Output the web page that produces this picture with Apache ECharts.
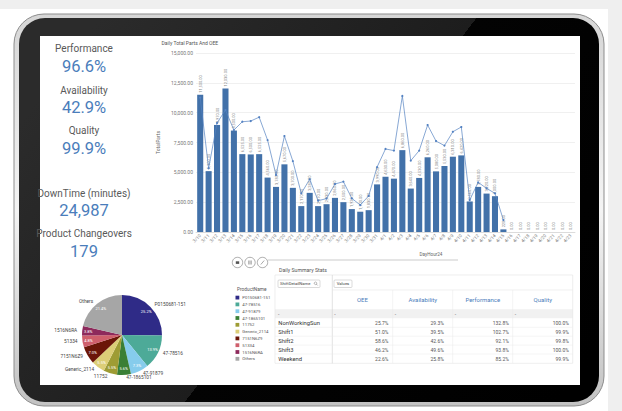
<!DOCTYPE html>
<html><head><meta charset="utf-8">
<script src="https://cdn.jsdelivr.net/npm/echarts@6/dist/echarts.min.js"></script>
<style>html,body{margin:0;padding:0;background:#fff}#c{width:622px;height:411px}</style>
</head><body><div id="c"></div>
<script>
// ---------- data ----------
const dates = ['3/10','3/11','3/12','3/13','3/14','3/15','3/16','3/17','3/18','3/19','3/20','3/21','3/22','3/23','3/24','3/25','3/26','3/27','3/28','3/29','3/30','3/31',
  '4/1','4/2','4/3','4/4','4/5','4/6','4/7','4/8','4/9','4/10','4/11','4/12','4/13','4/14','4/15','4/16','4/17','4/18','4/19','4/20','4/21','4/22','4/23'];
const totalParts = [11500,5100,8970,12030,8500,6525,6500,6525,4560,3780,5670,3700,2170,3280,2170,2330,2860,2500,1920,1700,1830,3990,
  4630,4470,6860,3640,4530,6260,5080,5530,6310,6420,2560,3780,3220,3000,220,0,0,0,0,0,0,0,0];
const oeePct = [56.3,26.7,45.7,51.1,42.7,46.2,46.5,48.1,38.5,23.9,40.2,29.7,16.2,22.1,13.1,14.0,20.1,21.1,14.1,11.3,15.1,27.2,
  34.8,34.1,57.0,29.9,34.1,44.8,38.1,36.2,42.0,44.0,13.4,20.8,18.3,16.2,5.0,null,null,null,null,null,null,null,null];
const yTicks = [0,2500,5000,7500,10000,12500,15000];

const kpiLabels = ['Performance','Availability','Quality','DownTime (minutes)','Product Changeovers'];
const kpiValues = ['96.6%','42.9%','99.9%','24,987','179'];

const productNames = ['P0150681-151','47-78516','47-91879','47-1865101','11752','Generic_2114','7151N6Z9','51334','1516N6RA','Others'];
const productShares = [25.2,13.9,7.3,5.6,5.5,5.5,7.0,4.8,3.8,21.4];
const productColors = ['#2f2b87','#4daa98','#86ccec','#3a7f35','#9e9c34','#dcce77','#6b1608','#cf5f6c','#8e2a5c','#a6a6a6'];

const tableHeaders = ['OEE','Availability','Performance','Quality'];
const shifts = ['NonWorkingSun','Shift1','Shift2','Shift3','Weekend'];
const shiftOEE = ['25.7%','51.0%','58.6%','46.2%','22.6%'];
const shiftAvailability = ['29.3%','39.5%','42.6%','49.6%','25.8%'];
const shiftPerformance = ['132.8%','102.7%','92.1%','93.8%','85.2%'];
const shiftQuality = ['100.0%','99.9%','99.8%','100.0%','99.9%'];

// ---------- drawing ----------
const FONT = 'Roboto, "Open Sans", sans-serif';
const BLUE = '#4a7dbb';
const g = [];
function txt(x, y, text, size, fill, align, extra) {
  g.push(Object.assign({type:'text', x:x, y:y, z:50,
    style:{text:text, fontSize:size, fontFamily:FONT, fill:fill, align:align||'center', verticalAlign:'middle'}}, extra||{}));
}
// page background & tablet
g.push({type:'rect', z:-20, shape:{x:0,y:0,width:622,height:9}, style:{fill:'#efefef'}});
g.push({type:'rect', z:-20, shape:{x:608,y:0,width:14,height:411}, style:{fill:'#efefef'}});
g.push({type:'rect', z:-19, shape:{x:14,y:14,width:590,height:392,r:30},
  style:{fill:new echarts.graphic.LinearGradient(0,0,0,1,[{offset:0,color:'#d6d6d6'},{offset:0.5,color:'#f4f4f4'},{offset:1,color:'#c2c2c2'}]), stroke:'#8d8d8d', lineWidth:1}});
g.push({type:'rect', z:-18, shape:{x:19,y:18,width:580,height:384,r:26},
  style:{fill:{type:'linear', x:92, y:28, x2:570, y2:391, global:true,
    colorStops:[{offset:0,color:'#2b2b2b'},{offset:0.5,color:'#1d1d1d'},{offset:0.5,color:'#030303'},{offset:1,color:'#000'}]}}});
g.push({type:'rect', z:-17, shape:{x:40,y:36,width:540,height:349}, style:{fill:'#ffffff'}});

// KPI panel
const kpiY = [[48.7,66.7],[90,107.7],[130.7,148.3],[193.3,210.5],[233.3,251]];
kpiLabels.forEach((l,i)=>{ txt(84, kpiY[i][0], l, 10, '#595959'); txt(84, kpiY[i][1], kpiValues[i], 16.5, BLUE); });

// bar chart titles
txt(161.5, 42.5, 'Daily Total Parts And OEE', 5, '#555', 'left');
txt(431, 254.5, 'DayHour24', 4.6, '#666');
// scroll bar + buttons
g.push({type:'rect', z:10, shape:{x:268,y:259.2,width:190,height:1.6}, style:{fill:'#dcdcdc'}});
[237.5,250,262.5].forEach(cx=>g.push({type:'circle', z:10, shape:{cx:cx,cy:262.5,r:5.2}, style:{fill:'#fff',stroke:'#8a8a8a',lineWidth:0.7}}));
g.push({type:'rect', z:11, shape:{x:235.8,y:261.3,width:3.4,height:2.6}, style:{fill:'#555'}});
[248.7,250,251.3].forEach(x=>g.push({type:'line', z:11, shape:{x1:x,y1:260.5,x2:x,y2:264.5}, style:{stroke:'#555',lineWidth:0.5}}));
g.push({type:'line', z:11, shape:{x1:260.8,y1:264.5,x2:264.2,y2:260.5}, style:{stroke:'#555',lineWidth:0.5}});

// pie legend title
txt(237, 289.5, 'ProductName', 4.8, '#555', 'left');

// table
txt(279, 269.5, 'Daily Summary Stats', 5.2, '#555', 'left');
const TL=275, TR=572.7, TT=275, TB=363.3, SEP=332.3;
const colL = [332.3,392.7,452.7,512.7];
const colW = 60.2;
g.push({type:'rect', z:5, shape:{x:TL,y:309.3,width:TR-TL,height:9}, style:{fill:'#f1f1f1'}});
g.push({type:'rect', z:6, shape:{x:TL,y:TT,width:TR-TL,height:TB-TT}, style:{fill:'none',stroke:'#e2e2e2',lineWidth:0.6}});
g.push({type:'line', z:6, shape:{x1:SEP,y1:TT,x2:SEP,y2:TB}, style:{stroke:'#cfcfcf',lineWidth:0.6}});
g.push({type:'line', z:6, shape:{x1:SEP,y1:290,x2:TR,y2:290}, style:{stroke:'#e6e6e6',lineWidth:0.6}});
[327.3,336.2,345.1,354].forEach(y=>g.push({type:'line', z:6, shape:{x1:TL,y1:y,x2:TR,y2:y}, style:{stroke:'#ebebeb',lineWidth:0.5}}));
[392.7,452.7,512.7].forEach(x=>g.push({type:'line', z:6, shape:{x1:x,y1:290,x2:x,y2:TB}, style:{stroke:'#e8e8e8',lineWidth:0.5}}));
g.push({type:'rect', z:7, shape:{x:278,y:280,width:42,height:7.5,r:1}, style:{fill:'#fff',stroke:'#b5b5b5',lineWidth:0.5}});
txt(280, 283.8, 'ShiftDetailName', 4.2, '#444', 'left');
g.push({type:'circle', z:8, shape:{cx:315.5,cy:283.3,r:1.3}, style:{fill:'none',stroke:'#555',lineWidth:0.4}});
g.push({type:'line', z:8, shape:{x1:316.4,y1:284.2,x2:317.6,y2:285.4}, style:{stroke:'#555',lineWidth:0.5}});
g.push({type:'rect', z:7, shape:{x:334,y:280,width:18,height:7.5,r:1}, style:{fill:'#fff',stroke:'#b5b5b5',lineWidth:0.5}});
txt(343, 283.8, 'Values', 4.2, '#444');
tableHeaders.forEach((h,i)=>txt(colL[i]+colW/2, 299.5, h, 6, BLUE));
txt(278, 313.5, '-', 5, '#555', 'left');
colL.forEach(x=>txt(x+2, 313.5, '-', 5, '#555', 'left'));
const cols = [shiftOEE, shiftAvailability, shiftPerformance, shiftQuality];
const pads = [4,9,4,4];
shifts.forEach((s,r)=>{
  const y = 322.7 + 8.95*r;
  txt(278.3, y, s, 5.8, '#333', 'left');
  cols.forEach((c,i)=>txt(colL[i]+colW-pads[i], y, c[r], 5, '#555', 'right'));
});

const fmt2 = v => Number(v).toLocaleString('en-US',{minimumFractionDigits:2, maximumFractionDigits:2});

const chart = echarts.init(document.getElementById('c'), null, {renderer:'svg'});
chart.setOption({
  animation:false,
  backgroundColor:'#ffffff',
  graphic:{elements:g},
  grid:{left:196, top:53, width:379, height:179, containLabel:false},
  xAxis:{type:'category', data:dates,
    axisLine:{lineStyle:{color:'#cccccc',width:0.6}}, axisTick:{show:false},
    axisLabel:{rotate:45, fontSize:4.5, color:'#888', interval:0, margin:3, fontFamily:FONT}},
  yAxis:[
    {type:'value', min:yTicks[0], max:yTicks[yTicks.length-1], interval:yTicks[1]-yTicks[0],
     name:'TotalParts', nameLocation:'middle', nameGap:29, nameTextStyle:{fontSize:5, color:'#666', fontFamily:FONT},
     axisLine:{show:false}, axisTick:{show:false},
     axisLabel:{fontSize:5, color:'#777', margin:3, formatter:fmt2, fontFamily:FONT},
     splitLine:{lineStyle:{color:'#e6e6e6', width:0.6}}},
    {type:'value', min:0, max:75, show:false, splitLine:{show:false}}
  ],
  legend:{data:productNames, orient:'vertical', left:235.5, top:295.6, padding:0,
    icon:'rect', itemWidth:3.8, itemHeight:3.8, itemGap:2.8,
    textStyle:{fontSize:4.3, color:'#555', lineHeight:4, fontFamily:FONT, padding:[0,0,0,-2]}},
  series:[
    {type:'bar', data:totalParts, barCategoryGap:'28%', itemStyle:{color:'#4271a9'},
     label:{show:true, position:'top', rotate:90, align:'left', verticalAlign:'middle', distance:2,
       fontSize:4, color:'#888', fontFamily:FONT, formatter:p=>fmt2(p.value)}},
    {type:'line', yAxisIndex:1, data:oeePct, z:4, color:'#5482c2',
     lineStyle:{width:0.7, color:'#5482c2'}, symbol:'circle', symbolSize:2.2, showSymbol:true,
     itemStyle:{color:'#5482c2'}},
    {type:'pie', name:'ProductName', center:[122,335], radius:40, startAngle:90, clockwise:true,
     avoidLabelOverlap:false, labelLayout:{hideOverlap:false},
     data:productNames.map((n,i)=>({name:n, value:productShares[i], itemStyle:{color:productColors[i]}})),
     label:{show:true, position:'outside', alignTo:'none', formatter:'{b}', fontSize:4.8, color:'#444', fontFamily:FONT, distanceToLabelLine:1},
     labelLine:{show:true, length:3, length2:1, lineStyle:{opacity:0}}},
    {type:'pie', center:[122,335], radius:[22,40], startAngle:90, clockwise:true, silent:true,
     labelLayout:{hideOverlap:false},
     data:productNames.map((n,i)=>({name:n+' ', value:productShares[i]})),
     itemStyle:{color:'rgba(0,0,0,0)'},
     label:{show:true, position:'inside', formatter:p=>p.value.toFixed(1)+'%', fontSize:4, color:'#ffffff', fontFamily:FONT},
     labelLine:{show:false}}
  ]
});
</script></body></html>
